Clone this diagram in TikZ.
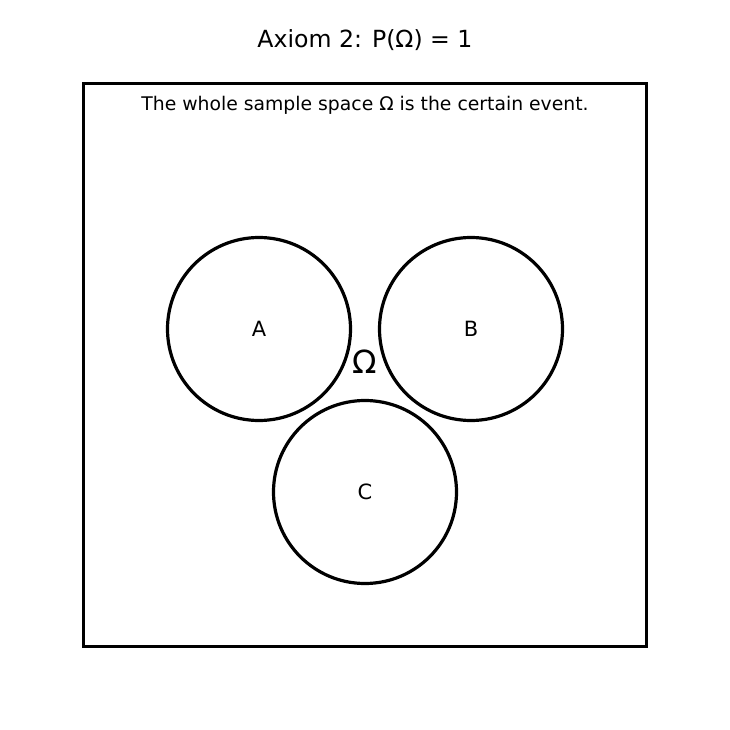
\documentclass[tikz,border=0pt]{standalone}
\usepackage{fontspec}
\setmainfont{DejaVu Sans}
\usetikzlibrary{positioning}
\tikzset{
  venn/.style={circle,draw=black,line width=3.2pt,minimum size=183pt,inner sep=0pt,font=\fontsize{21}{24}\selectfont},
  frame/.style={draw=black,line width=3.2pt,minimum width=563pt,minimum height=563pt,inner sep=0pt}
}
\begin{document}
\begin{tikzpicture}[x=1pt,y=-1pt]
\useasboundingbox (0,0) rectangle (730,730);
% sample space
\node[frame] (space) at (365,365) {};
\node[font=\fontsize{23.6}{27}\selectfont] (title) at (365,40) {Axiom 2: P(Ω) = 1};
\node[font=\fontsize{18.8}{22}\selectfont] (caption) at (365,105) {The whole sample space Ω is the certain event.};
% events
\node[venn] (A) at (259,329) {A};
\node[venn] (B) at (471,329) {B};
\node[venn] (C) at (365,492) {C};
\node[font=\fontsize{32}{36}\selectfont] (omega) at (365,362) {Ω};
\end{tikzpicture}
\end{document}
